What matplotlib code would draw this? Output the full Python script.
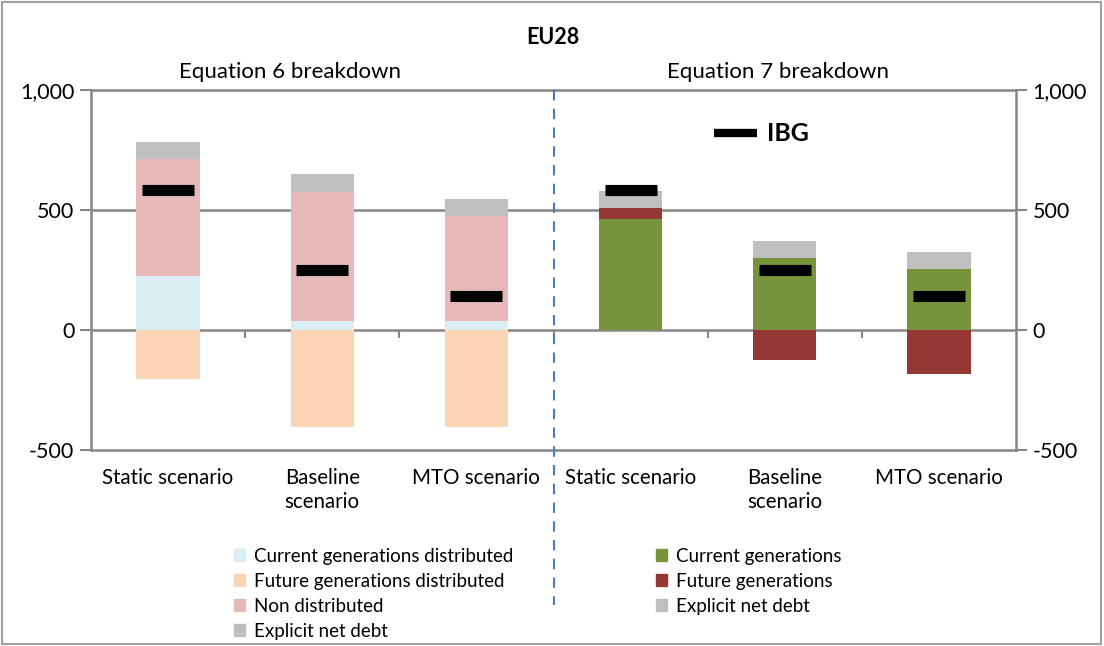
import matplotlib.pyplot as plt
import numpy as np
from matplotlib.patches import Patch, Rectangle
from matplotlib.lines import Line2D
from matplotlib.ticker import FuncFormatter

plt.rcParams['font.family'] = ['Lato', 'DejaVu Sans']

categories = ["Static scenario", "Baseline\nscenario", "MTO scenario"]

# Equation 6 breakdown
eq6_current_dist = [226, 39, 39]
eq6_future_dist = [-203, -403, -403]
eq6_non_dist = [485, 537, 435]
eq6_debt = [72, 73, 70]

# Equation 7 breakdown
eq7_current = [464, 300, 254]
eq7_future = [46, -125, -185]
eq7_debt = [71, 71, 71]

# IBG (same for both equations)
ibg = [582, 250, 142]

col_cur_dist = "#DAEEF3"
col_fut_dist = "#FCD5B5"
col_non_dist = "#E6B9B8"
col_debt = "#BFBFBF"
col_cur = "#77933C"
col_fut = "#953735"
grid_col = "#868686"

fig = plt.figure(figsize=(11.04, 6.46), dpi=100)
ax = fig.add_axes([91 / 1104, 196 / 646, 925 / 1104, 360 / 646])

w = 0.41
x6 = np.arange(3)
x7 = np.arange(3) + 3


def stack(ax, x, series, colors):
    pos = np.zeros(len(x))
    neg = np.zeros(len(x))
    for vals, c in zip(series, colors):
        vals = np.array(vals, dtype=float)
        bottom = np.where(vals >= 0, pos, neg)
        ax.bar(x, vals, w, bottom=bottom, color=c, zorder=3)
        pos = pos + np.where(vals >= 0, vals, 0)
        neg = neg + np.where(vals < 0, vals, 0)


stack(ax, x6, [eq6_current_dist, eq6_future_dist, eq6_non_dist, eq6_debt],
      [col_cur_dist, col_fut_dist, col_non_dist, col_debt])
stack(ax, x7, [eq7_current, eq7_future, eq7_debt],
      [col_cur, col_fut, col_debt])

ax.plot(np.concatenate([x6, x7]), ibg + ibg, linestyle='none', marker='_',
        markersize=37, markeredgewidth=8, color='black', zorder=5)

ax.set_xlim(-0.5, 5.5)
ax.set_ylim(-500, 1000)
ax.set_yticks([-500, 0, 500, 1000])
fmt = FuncFormatter(lambda v, p: f"{int(v):,}")
ax.yaxis.set_major_formatter(fmt)
ax.set_xticks(np.arange(6))
ax.set_xticklabels(categories * 2, fontsize=14.8, linespacing=1.25)
ax.tick_params(axis='x', length=0, pad=13)
ax.tick_params(axis='y', length=8, width=1.5, color=grid_col, labelsize=15.5, pad=4)
for y in [0, 500]:
    ax.axhline(y, color=grid_col, lw=1.8, zorder=2)
for s in ax.spines.values():
    s.set_color(grid_col)
    s.set_linewidth(1.8)

ax2 = ax.twinx()
ax2.set_ylim(-500, 1000)
ax2.set_yticks([-500, 0, 500, 1000])
ax2.yaxis.set_major_formatter(fmt)
ax2.tick_params(axis='y', length=8, width=1.5, color=grid_col, labelsize=15.5, pad=4)
for s in ax2.spines.values():
    s.set_visible(False)

# category tick marks on the zero line
sec = ax.secondary_xaxis(1 / 3)
sec.spines['bottom'].set_visible(False)
sec.set_xticks(np.arange(5) + 0.5)
sec.set_xticklabels([])
sec.tick_params(axis='x', length=6, width=1.5, color=grid_col, direction='out')

# dashed divider
ax.plot([2.5, 2.5], [1.0, -0.43], transform=ax.get_xaxis_transform(),
        color="#4A7EBB", lw=1.5, linestyle=(0, (5, 4)), clip_on=False, zorder=6)

fig.text(0.501, 1 - 37 / 646, "EU28", ha='center', va='center',
         fontsize=15.5, fontweight='bold')
fig.text(290 / 1104, 1 - 72 / 646, "Equation 6 breakdown", ha='center',
         va='center', fontsize=16)
fig.text(778 / 1104, 1 - 72 / 646, "Equation 7 breakdown", ha='center',
         va='center', fontsize=16)

ibg_handle = Line2D([], [], color='black', lw=6, solid_capstyle='butt')
ax.legend(handles=[ibg_handle], labels=["IBG"], loc='center left',
          bbox_to_anchor=(0.674, 0.878), frameon=False, handlelength=1.7,
          handletextpad=0.4, borderpad=0, borderaxespad=0,
          prop={'weight': 'bold', 'size': 18})

left_handles = [Patch(color=col_cur_dist), Patch(color=col_fut_dist),
                Patch(color=col_non_dist), Patch(color=col_debt)]
left_labels = ["Current generations distributed", "Future generations distributed",
               "Non distributed", "Explicit net debt"]
right_handles = [Patch(color=col_cur), Patch(color=col_fut), Patch(color=col_debt)]
right_labels = ["Current generations", "Future generations", "Explicit net debt"]

leg_kw = dict(frameon=False, fontsize=13.5, handlelength=0.6, handleheight=0.6,
              handletextpad=0.45, labelspacing=0.42, borderpad=0, borderaxespad=0)
fig.legend(left_handles, left_labels, loc='upper left',
           bbox_to_anchor=(234 / 1104, 1 - 548 / 646), **leg_kw)
fig.legend(right_handles, right_labels, loc='upper left',
           bbox_to_anchor=(656 / 1104, 1 - 548 / 646), **leg_kw)

fig.add_artist(Rectangle((0.002, 0.003), 0.995, 0.994, transform=fig.transFigure,
                         fill=False, edgecolor="#A0A0A0", lw=1.5))

fig.savefig("out.png", dpi=100)
